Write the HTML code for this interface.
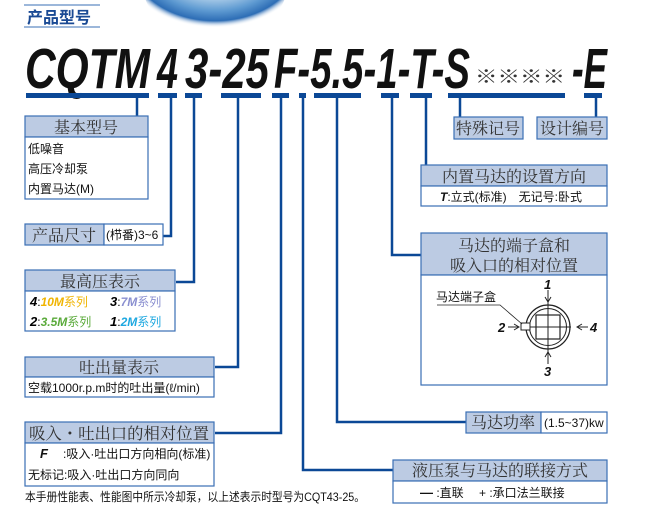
<!DOCTYPE html>
<html><head><meta charset="utf-8"><style>
html,body{margin:0;padding:0;background:#fff;width:653px;height:510px;overflow:hidden}
svg{display:block}
.h{font-family:"Liberation Serif","Noto Serif CJK SC",serif;font-size:16px;fill:#333}
.b{font-family:"Liberation Sans","Noto Sans CJK SC",sans-serif;font-size:12px;fill:#111}
.big{font-family:"Liberation Sans",sans-serif;font-weight:bold;font-style:italic;font-size:57px;fill:#111}
</style></head><body>
<svg width="653" height="510" viewBox="0 0 653 510" xmlns="http://www.w3.org/2000/svg">
<defs>
<radialGradient id="g" cx="0.5" cy="0.25" r="0.65">
<stop offset="0" stop-color="#ffffff"/><stop offset="0.45" stop-color="#d8e9f6"/><stop offset="0.75" stop-color="#5f9bd2"/><stop offset="0.9" stop-color="#2d6db5"/><stop offset="1" stop-color="#ffffff" stop-opacity="0"/>
</radialGradient>
</defs>
<ellipse cx="215" cy="-14" rx="72" ry="52" fill="url(#g)"/>
<line x1="24" y1="5" x2="100" y2="5" stroke="#3a6fb5" stroke-width="1"/>
<line x1="24" y1="27" x2="100" y2="27" stroke="#3a6fb5" stroke-width="1"/>
<text x="27" y="23" font-family="Liberation Sans,'Noto Sans CJK SC',sans-serif" font-weight="bold" font-size="16" fill="#1a4a94">产品型号</text>
<text class="big" x="25" y="88" textLength="125" lengthAdjust="spacingAndGlyphs">CQTM</text>
<text class="big" x="157" y="88" textLength="21" lengthAdjust="spacingAndGlyphs">4</text>
<text class="big" x="185" y="88" textLength="84" lengthAdjust="spacingAndGlyphs">3-25</text>
<text class="big" x="274" y="88" textLength="196" lengthAdjust="spacingAndGlyphs">F-5.5-1-T-S</text>
<text x="475" y="83" font-family="'Noto Sans CJK SC',sans-serif" font-size="18" fill="#333" textLength="90" lengthAdjust="spacingAndGlyphs">※※※※</text>
<text class="big" x="572" y="88" textLength="35" lengthAdjust="spacingAndGlyphs">-E</text>
<g fill="#0b4896">
<rect x="26" y="93" width="123" height="5"/>
<rect x="158" y="93" width="19" height="5"/>
<rect x="185" y="93" width="17" height="5"/>
<rect x="221" y="93" width="40" height="5"/>
<rect x="272" y="93" width="17" height="5"/>
<rect x="299" y="93" width="7" height="5"/>
<rect x="314" y="93" width="47" height="5"/>
<rect x="381" y="93" width="18" height="5"/>
<rect x="410" y="93" width="22" height="5"/>
<rect x="448" y="93" width="117" height="5"/>
<rect x="584" y="93" width="18" height="5"/>
</g>
<g fill="none" stroke="#0b4896" stroke-width="2.5">
<path d="M137 97V116"/>
<path d="M171 97V236H163"/>
<path d="M194 97V282H176"/>
<path d="M238 97V367H215"/>
<path d="M281 97V433H215"/>
<path d="M303 97V470H393"/>
<path d="M337 97V422H466"/>
<path d="M392 97V255H421"/>
<path d="M426 97V165"/>
<path d="M460 97V117"/>
<path d="M596 97V117"/>
</g>
<g stroke="#3a6fb5" stroke-width="1.2">
<rect x="25" y="116" width="123" height="21" fill="#bccbe3"/>
<rect x="25" y="137" width="123" height="62" fill="#fff"/>
<rect x="25" y="224" width="79" height="21" fill="#bccbe3"/>
<rect x="104" y="224" width="59" height="21" fill="#fff"/>
<rect x="25" y="270" width="150" height="21" fill="#bccbe3"/>
<rect x="25" y="291" width="150" height="40" fill="#fff"/>
<rect x="25" y="357" width="189" height="20" fill="#bccbe3"/>
<rect x="25" y="377" width="189" height="20" fill="#fff"/>
<rect x="25" y="422" width="189" height="21" fill="#bccbe3"/>
<rect x="25" y="443" width="189" height="43" fill="#fff"/>
<rect x="454" y="117" width="69" height="22" fill="#bccbe3"/>
<rect x="537" y="117" width="70" height="22" fill="#bccbe3"/>
<rect x="421" y="165" width="186" height="21" fill="#bccbe3"/>
<rect x="421" y="186" width="186" height="20" fill="#fff"/>
<rect x="421" y="233" width="186" height="42" fill="#bccbe3"/>
<rect x="421" y="275" width="186" height="110" fill="#fff"/>
<rect x="466" y="412" width="75" height="21" fill="#bccbe3"/>
<rect x="541" y="412" width="66" height="21" fill="#fff"/>
<rect x="393" y="460" width="214" height="21" fill="#bccbe3"/>
<rect x="393" y="481" width="214" height="22" fill="#fff"/>
</g>
<text class="h" x="86" y="133" text-anchor="middle">基本型号</text>
<text class="h" x="64" y="241" text-anchor="middle">产品尺寸</text>
<text class="h" x="100" y="287" text-anchor="middle">最高压表示</text>
<text class="h" x="119" y="373" text-anchor="middle">吐出量表示</text>
<text class="h" x="119" y="439" text-anchor="middle" textLength="180" lengthAdjust="spacingAndGlyphs">吸入・吐出口的相对位置</text>
<text class="h" x="488" y="134" text-anchor="middle">特殊记号</text>
<text class="h" x="572" y="134" text-anchor="middle">设计编号</text>
<text class="h" x="514" y="182" text-anchor="middle">内置马达的设置方向</text>
<text class="h" x="514" y="251" text-anchor="middle">马达的端子盒和</text>
<text class="h" x="514" y="271" text-anchor="middle">吸入口的相对位置</text>
<text class="h" x="503" y="428" text-anchor="middle">马达功率</text>
<text class="h" x="500" y="476" text-anchor="middle">液压泵与马达的联接方式</text>
<text class="b" x="28" y="153">低噪音</text>
<text class="b" x="28" y="173">高压冷却泵</text>
<text class="b" x="28" y="193">内置马达(M)</text>
<text class="b" x="106" y="239" font-size="9.5">(栉番)3~6</text>
<g font-family="Liberation Sans,'Noto Sans CJK SC',sans-serif" font-size="12">
<text x="30" y="306"><tspan font-weight="bold" font-style="italic" font-size="13">4</tspan>:<tspan fill="#f0b400" font-weight="bold" font-style="italic">10M</tspan><tspan fill="#f0b400">系列</tspan></text>
<text x="110" y="306"><tspan font-weight="bold" font-style="italic" font-size="13">3</tspan>:<tspan fill="#8a8fd0" font-weight="bold" font-style="italic">7M</tspan><tspan fill="#8a8fd0">系列</tspan></text>
<text x="30" y="326"><tspan font-weight="bold" font-style="italic" font-size="13">2</tspan>:<tspan fill="#5aaa3a" font-weight="bold" font-style="italic">3.5M</tspan><tspan fill="#5aaa3a">系列</tspan></text>
<text x="110" y="326"><tspan font-weight="bold" font-style="italic" font-size="13">1</tspan>:<tspan fill="#1ea8e0" font-weight="bold" font-style="italic">2M</tspan><tspan fill="#1ea8e0">系列</tspan></text>
</g>
<text class="b" x="28" y="392" font-size="11.5">空载1000r.p.m时的吐出量(ℓ/min)</text>
<text class="b" x="40" y="458"><tspan font-weight="bold" font-style="italic" font-size="13">F</tspan><tspan x="63">:吸入·吐出口方向相向(标准)</tspan></text>
<text class="b" x="28" y="479">无标记:吸入·吐出口方向同向</text>
<text class="b" x="25" y="501" font-size="10" textLength="340" lengthAdjust="spacingAndGlyphs">本手册性能表、性能图中所示冷却泵，以上述表示时型号为CQT43-25。</text>
<text class="b" x="440" y="201" font-size="11"><tspan font-weight="bold" font-style="italic" font-size="12">T</tspan>:立式(标准)　无记号:卧式</text>
<text class="b" x="544" y="427" font-size="9.5">(1.5~37)kw</text>
<text class="b" x="420" y="497"><tspan font-weight="bold" font-size="13">—</tspan> :直联　 + :承口法兰联接</text>
<g stroke="#222" fill="none">
<circle cx="548" cy="327" r="22" stroke-width="1.2"/>
<circle cx="548" cy="327" r="18.5" stroke-width="1"/>
<rect x="536" y="315" width="24" height="24" stroke-width="1.2"/>
<line x1="548" y1="296" x2="548" y2="357" stroke-width="1"/>
<line x1="527" y1="327" x2="571" y2="327" stroke-width="1"/>
<rect x="521" y="323" width="9" height="7" fill="#fff" stroke-width="1"/>
<path d="M437 305H500L522 324" stroke-width="0.8"/>
<path d="M548 290V301M545 297L548 302L551 297" stroke-width="1"/>
<path d="M548 364V353M545 357L548 352L551 357" stroke-width="1"/>
<path d="M508 327H518M514 324L519 327L514 330" stroke-width="1"/>
<path d="M588 327H578M582 324L577 327L582 330" stroke-width="1"/>
</g>
<text class="b" x="436" y="301" font-size="11">马达端子盒</text>
<g font-family="Liberation Sans,sans-serif" font-weight="bold" font-style="italic" font-size="13" fill="#111">
<text x="544" y="289">1</text>
<text x="498" y="332">2</text>
<text x="590" y="332">4</text>
<text x="544" y="376">3</text>
</g>
</svg>
</body></html>
